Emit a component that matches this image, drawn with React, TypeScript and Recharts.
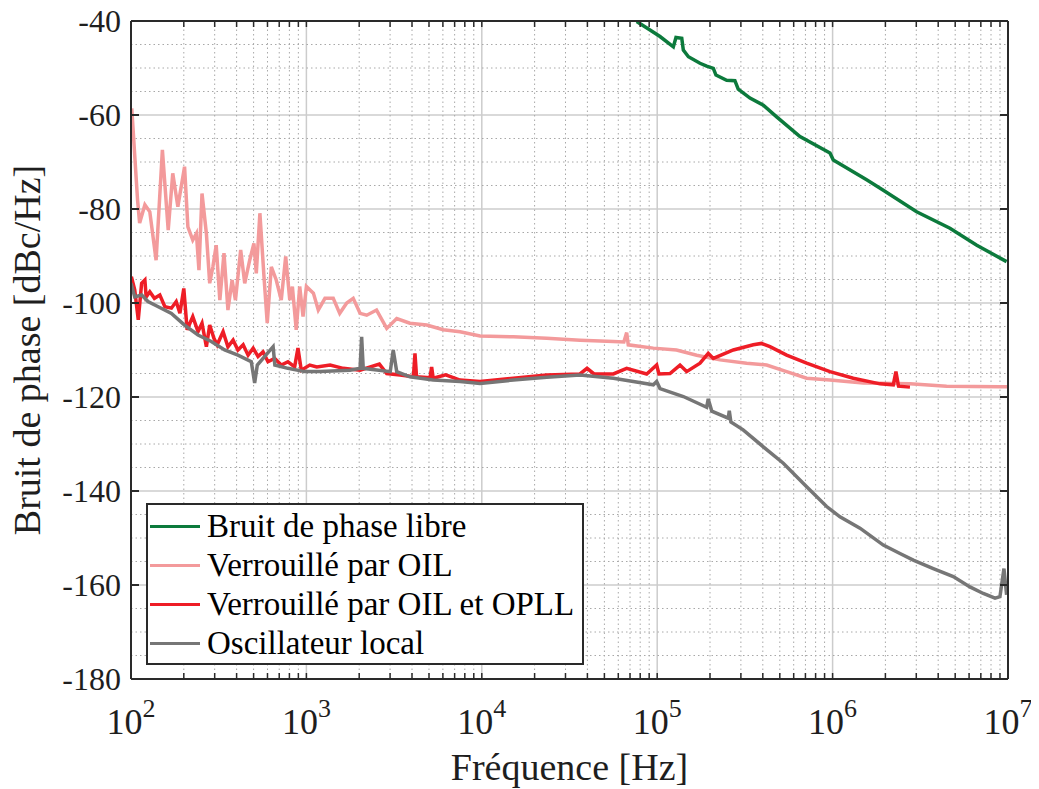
import { LineChart, Line, XAxis, YAxis, CartesianGrid, ReferenceLine } from "recharts";

// frequency [Hz], phase noise [dBc/Hz]
const libre: [number, number][] = [
  [76384, -40.1], [90991, -41.9], [103753, -43.3], [123595, -45.5], [127938, -43.5],
  [138038, -43.7], [140929, -46.2], [150661, -47.6], [175388, -49], [191426, -49.6],
  [208930, -50.1], [216272, -51.5], [248886, -52.6], [277332, -52.7], [289734, -54.5],
  [338065, -56.4], [402717, -57.9], [479733, -60.4], [651628, -64.6], [966051, -68.1],
  [1009253, -69.6], [1563148, -73.8], [1945360, -76], [3013006, -80.6], [4666594, -84.1],
  [6637431, -87.7], [9817479, -91.2],
];

const oil: [number, number][] = [
  [101, -58.6], [109, -78.1], [112, -83.0], [120, -79.1], [128, -80.6], [139, -90.9],
  [151, -67.4], [163, -84.5], [173, -72.4], [185, -79.5], [202, -71.0], [211, -83.8],
  [225, -86.6], [236, -85.2], [244, -93.0], [254, -76.7], [269, -85.2], [281, -95.8],
  [293, -92.3], [306, -87.7], [321, -99.4], [339, -89.4], [357, -101.5], [377, -95.1],
  [394, -99.4], [422, -88.7], [445, -95.8], [475, -90.9], [502, -87.3], [518, -93.7],
  [543, -80.9], [573, -94.4], [598, -104.3], [631, -92.3], [673, -95.1], [719, -99.4],
  [762, -90.1], [804, -99.4], [832, -96.5], [875, -105.7], [916, -96.5], [957, -102.9],
  [1000, -96.5], [1096, -97.9], [1169, -101.5], [1276, -99], [1422, -99], [1549, -102.2],
  [1698, -100], [1849, -99], [2023, -102.2], [2208, -102.6], [2512, -101.5], [2871, -105.4],
  [3273, -103.3], [3890, -104.3], [4853, -104.7], [6026, -105.7], [7516, -106.1],
  [9772, -107.0], [15136, -107.2], [23442, -107.5], [36308, -107.9], [56234, -108.2],
  [64565, -108.3], [66988, -106.3], [68391, -108.9], [95060, -109.6], [128825, -110],
  [167880, -111.1], [228034, -112.1], [323594, -112.8], [420727, -113.2], [547016, -114.6],
  [711214, -116], [966051, -116.4], [1496236, -117], [2760578, -117.2], [4466836, -117.7],
  [8994976, -117.8], [10000000, -117.8],
];

const oilOpll: [number, number][] = [
  [100.5, -94.4], [105, -97.2], [110, -103.6], [115, -95.8], [120, -95.1], [122, -98.7],
  [128, -97.6], [136, -99.0], [146, -98.3], [156, -100.8], [170, -101.1], [181, -99.7],
  [190, -102.2], [200, -96.9], [209, -105.7], [225, -102.9], [241, -106.1], [254, -104.3],
  [269, -109.3], [281, -104.7], [297, -107.5], [310, -108.9], [335, -106.1], [357, -109.3],
  [382, -107.9], [407, -110], [436, -108.9], [465, -111.1], [497, -109.6], [530, -111.4],
  [566, -110.4], [604, -112.5], [659, -111.8], [719, -113.2], [785, -112.5], [857, -113.6],
  [895, -109.6], [935, -114.3], [1045, -113.2], [1146, -113.6], [1365, -113.2], [1622, -113.9],
  [2023, -114.3], [2606, -113], [2871, -115], [3420, -115.3], [4074, -115.7], [4159, -110.7],
  [4246, -115.7], [5070, -115.9], [5176, -113.6], [5284, -116], [6223, -115.3], [7516, -116.4],
  [9772, -116.7], [15136, -116], [23442, -115.3], [36308, -115.1], [39811, -113.9],
  [43652, -115.1], [56234, -115.1], [66988, -113.9], [87096, -115.1], [99312, -113.2],
  [102329, -115.1], [118304, -115], [134896, -113.2], [147231, -114.6], [175388, -112.8],
  [195434, -110.7], [208930, -111.8], [271644, -110], [353183, -108.9], [393550, -108.6],
  [439542, -109.3], [547016, -111.1], [711214, -112.8], [966051, -114.6], [1312199, -116],
  [1862087, -117.2], [2218196, -117.4], [2296149, -114.6], [2376840, -117.7], [2760578, -117.9],
];

const lo: [number, number][] = [
  [100, -95.8], [105, -98.7], [115, -98.3], [125, -99.7], [143, -100.8], [170, -102.2],
  [202, -104.7], [241, -106.8], [287, -108.2], [342, -110], [407, -111.1], [485, -112.5],
  [507, -117], [525, -113.2], [646, -109.3], [661, -113.2], [785, -113.9], [977, -114.6],
  [1197, -114.6], [1774, -114.3], [2023, -113.9], [2065, -107.2], [2109, -113.9],
  [3006, -114.6], [3126, -110], [3273, -114.6], [3890, -115.7], [5284, -116.4], [7516, -116.7],
  [9772, -117.1], [15136, -116.4], [23442, -115.8], [36308, -115.3], [56234, -116],
  [73114, -116.7], [95060, -117.4], [99312, -116.7], [103753, -118.2], [140929, -119.9],
  [191426, -122.2], [195434, -120.4], [204644, -123], [254097, -124.5], [257632, -122.9],
  [263027, -125.3], [309030, -127], [402717, -130.6], [523600, -134.1], [711214, -139.1],
  [924698, -143.3], [1101539, -145.5], [1432204, -147.9], [1945360, -151.5], [2421029, -153.3],
  [2884032, -154.7], [3749730, -156.5], [4875285, -158.2], [6067363, -160.4], [7227698, -161.8],
  [8433348, -162.8], [8994976, -162.5], [9484185, -156.5], [9817479, -162.1],
];

const decades = [1e2, 1e3, 1e4, 1e5, 1e6, 1e7];
const minorFreqs = [
  200, 300, 400, 500, 600, 700, 800, 900,
  2e3, 3e3, 4e3, 5e3, 6e3, 7e3, 8e3, 9e3,
  2e4, 3e4, 4e4, 5e4, 6e4, 7e4, 8e4, 9e4,
  2e5, 3e5, 4e5, 5e5, 6e5, 7e5, 8e5, 9e5,
  2e6, 3e6, 4e6, 5e6, 6e6, 7e6, 8e6, 9e6,
];
const allFreqTicks = [...decades, ...minorFreqs].sort((a, b) => a - b);
const majorLevels = [-180, -160, -140, -120, -100, -80, -60, -40];
const minorLevels = [
  -175, -170, -165, -155, -150, -145, -135, -130, -125, -115, -110, -105,
  -95, -90, -85, -75, -70, -65, -55, -50, -45,
];

const series = [
  { name: "Bruit de phase libre", color: "#0c7a3c", points: libre },
  { name: "Verrouillé par OIL", color: "#f39a9b", points: oil },
  { name: "Verrouillé par OIL et OPLL", color: "#ee1d26", points: oilOpll },
  { name: "Oscillateur local", color: "#767676", points: lo },
];

const FONT = "'Liberation Serif', 'Times New Roman', serif";
const INK = "#1e1e1e";
const FRAME = "#2a2a2a";

const toRows = (pts: [number, number][]) => pts.map(([f, db]) => ({ f, db }));

const DecadeTick = (props: any) => {
  const { x, y, payload } = props;
  const exp = Math.round(Math.log10(payload.value));
  return (
    <text x={x} y={y + 55} textAnchor="middle" style={{ fontFamily: FONT }} fontSize={36} fill={INK}>
      <tspan>10</tspan>
      <tspan fontSize={26} dy={-17}>{exp}</tspan>
    </text>
  );
};

const noTick = () => <g />;

export default function App() {
  return (
    <div style={{ position: "relative", width: 1039, height: 789, margin: "-8px 0 0 -8px", fontFamily: FONT }}>
      <LineChart width={1039} height={789} margin={{ top: 21, right: 31, bottom: 0, left: 8 }}>
        <CartesianGrid stroke="#cccccc" strokeWidth={1.5} />
        {minorFreqs.map((f) => (
          <ReferenceLine key={"vx" + f} x={f} stroke="#a8a8a8" strokeWidth={1} strokeDasharray="1.5 3" />
        ))}
        {minorLevels.map((v) => (
          <ReferenceLine key={"hy" + v} y={v} stroke="#a8a8a8" strokeWidth={1} strokeDasharray="1.5 3" />
        ))}
        <XAxis
          dataKey="f"
          type="number"
          scale="log"
          domain={[100, 1e7]}
          allowDataOverflow
          ticks={decades}
          interval={0}
          tickLine={false}
          tickSize={0}
          tickMargin={0}
          tick={<DecadeTick />}
          height={110}
          axisLine={{ stroke: FRAME, strokeWidth: 2 }}
          label={{ value: "Fréquence [Hz]", position: "insideBottom", offset: 9, fontSize: 38, fill: INK, style: { fontFamily: FONT } }}
        />
        <XAxis
          xAxisId="bm"
          dataKey="f"
          type="number"
          scale="log"
          domain={[100, 1e7]}
          allowDataOverflow
          ticks={allFreqTicks}
          interval={0}
          mirror
          tickSize={6}
          tick={noTick}
          axisLine={false}
          tickLine={{ stroke: FRAME, strokeWidth: 1.5 }}
        />
        <XAxis
          xAxisId="top"
          orientation="top"
          dataKey="f"
          type="number"
          scale="log"
          domain={[100, 1e7]}
          allowDataOverflow
          ticks={allFreqTicks}
          interval={0}
          mirror
          tickSize={6}
          tick={noTick}
          axisLine={{ stroke: FRAME, strokeWidth: 2 }}
          tickLine={{ stroke: FRAME, strokeWidth: 1.5 }}
        />
        <YAxis
          type="number"
          domain={[-180, -40]}
          allowDataOverflow
          ticks={majorLevels}
          interval={0}
          width={123}
          tickLine={false}
          tickSize={6}
          tickMargin={4}
          tick={{ fontSize: 32, fill: INK, style: { fontFamily: FONT } }}
          axisLine={{ stroke: FRAME, strokeWidth: 2 }}
          label={{
            value: "Bruit de phase [dBc/Hz]",
            angle: -90,
            position: "insideLeft",
            offset: 19,
            fontSize: 38,
            fill: INK,
            style: { textAnchor: "middle", fontFamily: FONT },
          }}
        />
        <YAxis
          yAxisId="lm"
          type="number"
          domain={[-180, -40]}
          allowDataOverflow
          ticks={majorLevels}
          interval={0}
          mirror
          tickSize={8}
          tick={noTick}
          axisLine={false}
          tickLine={{ stroke: FRAME, strokeWidth: 2 }}
        />
        <YAxis
          yAxisId="right"
          orientation="right"
          type="number"
          domain={[-180, -40]}
          allowDataOverflow
          ticks={majorLevels}
          interval={0}
          mirror
          tickSize={8}
          tick={noTick}
          axisLine={{ stroke: FRAME, strokeWidth: 2 }}
          tickLine={{ stroke: FRAME, strokeWidth: 2 }}
        />
        {series.map((s) => (
          <Line
            key={s.name}
            name={s.name}
            data={toRows(s.points)}
            dataKey="db"
            type="linear"
            stroke={s.color}
            strokeWidth={3.5}
            dot={false}
            activeDot={false}
            isAnimationActive={false}
          />
        ))}
      </LineChart>
      <div
        style={{
          position: "absolute",
          left: 146,
          top: 503,
          width: 438,
          height: 162,
          boxSizing: "border-box",
          border: `2px solid ${FRAME}`,
          background: "#ffffff",
          paddingTop: 2,
          fontSize: 33,
          color: "#000",
        }}
      >
        {series.map((s) => (
          <div key={s.name} style={{ display: "flex", alignItems: "center", height: 39, whiteSpace: "nowrap" }}>
            <span style={{ display: "inline-block", width: 50, height: 3, background: s.color, marginLeft: 2, marginRight: 7 }} />
            <span>{s.name}</span>
          </div>
        ))}
      </div>
    </div>
  );
}
